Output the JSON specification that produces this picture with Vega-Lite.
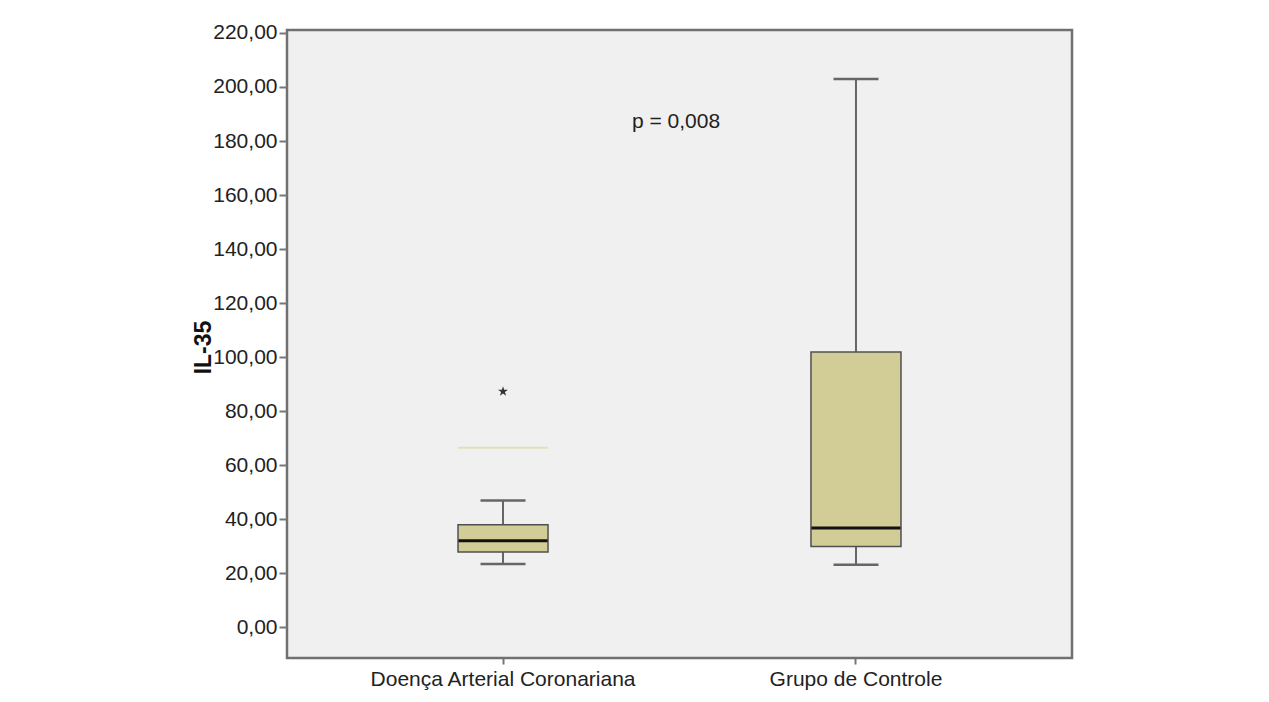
{
  "$schema": "https://vega.github.io/schema/vega-lite/v6.json",
  "width": 785,
  "height": 628,
  "autosize": {"type": "none"},
  "padding": {"left": 287, "top": 30, "right": 197, "bottom": 44},
  "background": "white",
  "config": {
    "view": {"fill": "#f0f0f0", "stroke": "#707070", "strokeWidth": 2.5},
    "font": "Liberation Sans"
  },
  "datasets": {
    "caixas": [
      {"grupo": "Doença Arterial Coronariana", "minimo": 23.4, "q1": 27.8, "mediana": 32.0, "q3": 37.9, "maximo": 46.9},
      {"grupo": "Grupo de Controle", "minimo": 23.1, "q1": 29.9, "mediana": 36.7, "q3": 101.9, "maximo": 203.0}
    ],
    "extremos": [
      {"grupo": "Doença Arterial Coronariana", "valor": 87.3}
    ],
    "sombra": [
      {"grupo": "Doença Arterial Coronariana", "valor": 66.4}
    ],
    "anotacao": [
      {"grupo": "Grupo de Controle", "valor": 187, "texto": "p = 0,008"}
    ]
  },
  "encoding": {
    "x": {
      "field": "grupo",
      "type": "nominal",
      "sort": ["Doença Arterial Coronariana", "Grupo de Controle"],
      "scale": {"domain": ["Doença Arterial Coronariana", "Grupo de Controle"], "paddingInner": 0.5, "paddingOuter": 0.362},
      "axis": {
        "title": null,
        "labelAngle": 0,
        "labelFontSize": 21,
        "labelLimit": 0,
        "labelColor": "#222222",
        "labelPadding": 4,
        "tickSize": 6,
        "tickColor": "#777777",
        "tickWidth": 2,
        "domain": false,
        "grid": false
      }
    }
  },
  "layer": [
    {
      "data": {"name": "sombra"},
      "mark": {"type": "tick", "size": 90, "thickness": 2, "color": "#e2e0bc", "opacity": 1},
      "encoding": {
        "y": {
          "field": "valor",
          "type": "quantitative",
          "scale": {"domain": [-11.4, 221.1], "nice": false, "zero": false},
          "axis": {
            "title": "IL-35",
            "titleFontSize": 23,
            "titleFontWeight": "bold",
            "titleColor": "#111111",
            "titleX": -84,
            "titleY": 317,
            "titleAngle": -90,
            "titleAlign": "center",
            "titleBaseline": "middle",
            "values": [0, 20, 40, 60, 80, 100, 120, 140, 160, 180, 200, 220],
            "labelExpr": "replace(format(datum.value, '.2f'), '.', ',')",
            "labelFontSize": 21,
            "labelColor": "#222222",
            "labelPadding": 2,
            "tickSize": 8,
            "tickColor": "#777777",
            "tickWidth": 2,
            "domain": false,
            "grid": false
          }
        }
      }
    },
    {
      "data": {"name": "caixas"},
      "mark": {"type": "rule", "color": "#666666", "strokeWidth": 2},
      "encoding": {
        "y": {"field": "minimo", "type": "quantitative"},
        "y2": {"field": "q1"}
      }
    },
    {
      "data": {"name": "caixas"},
      "mark": {"type": "rule", "color": "#666666", "strokeWidth": 2},
      "encoding": {
        "y": {"field": "q3", "type": "quantitative"},
        "y2": {"field": "maximo"}
      }
    },
    {
      "data": {"name": "caixas"},
      "mark": {"type": "tick", "size": 45, "thickness": 2.5, "color": "#666666", "opacity": 1},
      "encoding": {
        "y": {"field": "minimo", "type": "quantitative"}
      }
    },
    {
      "data": {"name": "caixas"},
      "mark": {"type": "tick", "size": 45, "thickness": 2.5, "color": "#666666", "opacity": 1},
      "encoding": {
        "y": {"field": "maximo", "type": "quantitative"}
      }
    },
    {
      "data": {"name": "caixas"},
      "mark": {"type": "bar", "size": 90, "fill": "#d2cd96", "stroke": "#505050", "strokeWidth": 1.5, "opacity": 1},
      "encoding": {
        "y": {"field": "q1", "type": "quantitative"},
        "y2": {"field": "q3"}
      }
    },
    {
      "data": {"name": "caixas"},
      "mark": {"type": "tick", "size": 89, "thickness": 3, "color": "#111111", "opacity": 1},
      "encoding": {
        "y": {"field": "mediana", "type": "quantitative"}
      }
    },
    {
      "data": {"name": "extremos"},
      "mark": {
        "type": "point",
        "shape": "M0,-1L0.22,-0.3L0.95,-0.3L0.36,0.12L0.59,0.81L0,0.38L-0.59,0.81L-0.36,0.12L-0.95,-0.3L-0.22,-0.3Z",
        "size": 110,
        "filled": true,
        "color": "#333333",
        "opacity": 1
      },
      "encoding": {
        "y": {"field": "valor", "type": "quantitative"}
      }
    },
    {
      "data": {"name": "anotacao"},
      "mark": {"type": "text", "fontSize": 21, "color": "#222222", "align": "center", "baseline": "middle", "dx": -180},
      "encoding": {
        "y": {"field": "valor", "type": "quantitative"},
        "text": {"field": "texto"}
      }
    }
  ]
}
